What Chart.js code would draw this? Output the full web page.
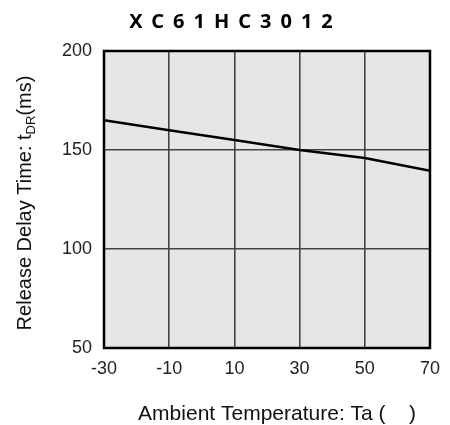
<!DOCTYPE html>
<html lang="en">
<head>
  <meta charset="UTF-8" />
  <title>XC61HC3012</title>
  <style>
    body { margin: 0; background: #fff; }
    #wrap { width: 450px; height: 425px; }
  </style>
</head>
<body>
  <div id="wrap"><canvas id="chart" width="450" height="425"></canvas></div>

  <script src="https://cdn.jsdelivr.net/npm/chart.js"></script>
  <script>
    // values
    const temps = [-30, -10, 10, 30, 50, 70];
    const delay = [165, 160, 155, 150, 146, 139.5];
    const xTicks = [-30, -10, 10, 30, 50, 70];
    const yTicks = [50, 100, 150, 200];

    const chartTitle = 'XC61HC3012';
    const xTitle = 'Ambient Temperature: Ta (    )';
    const yTitle = ['Release Delay Time: t', 'DR', '(ms)'];

    const font = 'Arial, "Liberation Sans", sans-serif';

    // plot background, frame and the titles
    const decor = {
      id: 'decor',
      beforeDraw(chart) {
        const { ctx, chartArea: a } = chart;
        ctx.save();
        ctx.fillStyle = '#e6e6e6';
        ctx.fillRect(a.left, a.top, a.right - a.left, a.bottom - a.top);
        ctx.restore();
      },
      afterDraw(chart) {
        const { ctx, chartArea: a } = chart;
        ctx.save();
        ctx.strokeStyle = '#000';
        ctx.lineWidth = 2.5;
        ctx.strokeRect(a.left, a.top, a.right - a.left, a.bottom - a.top);

        // title, spaced out letters
        ctx.fillStyle = '#000';
        ctx.font = 'bold 20px "Noto Sans", sans-serif';
        ctx.letterSpacing = '9px';
        ctx.textBaseline = 'alphabetic';
        ctx.textAlign = 'left';
        const tw = ctx.measureText(chartTitle).width - 9;
        ctx.fillText(chartTitle, 231 - tw / 2, 28);
        ctx.letterSpacing = '0px';

        // x axis title
        ctx.font = '21px ' + font;
        ctx.textAlign = 'center';
        ctx.fillStyle = '#111';
        ctx.fillText(xTitle, 277, 420);

        // y axis title with subscript
        ctx.translate(31, 203);
        ctx.rotate(-Math.PI / 2);
        ctx.textAlign = 'left';
        const big = '20px ' + font, small = '13px ' + font;
        ctx.font = big;
        const w0 = ctx.measureText(yTitle[0]).width;
        const w2 = ctx.measureText(yTitle[2]).width;
        ctx.font = small;
        const w1 = ctx.measureText(yTitle[1]).width;
        let x = -(w0 + w1 + w2) / 2;
        ctx.font = big;
        ctx.fillText(yTitle[0], x, 0);
        x += w0;
        ctx.font = small;
        ctx.fillText(yTitle[1], x, 4);
        x += w1;
        ctx.font = big;
        ctx.fillText(yTitle[2], x, 0);
        ctx.restore();
      }
    };

    new Chart(document.getElementById('chart'), {
      type: 'line',
      data: {
        datasets: [{
          data: temps.map((t, i) => ({ x: t, y: delay[i] })),
          borderColor: '#000',
          borderWidth: 2.5,
          pointRadius: 0,
          tension: 0,
          fill: false
        }]
      },
      options: {
        responsive: false,
        animation: false,
        events: [],
        layout: { padding: { top: 51, right: 17, left: 0, bottom: 0 } },
        plugins: { legend: { display: false }, tooltip: { enabled: false } },
        scales: {
          x: {
            type: 'linear',
            min: -30,
            max: 70,
            afterBuildTicks(s) { s.ticks = xTicks.map(v => ({ value: v })); },
            afterFit(s) { s.height = 77; },
            grid: { color: '#444', lineWidth: 1.6, drawTicks: false },
            border: { display: false },
            ticks: { padding: 10, color: '#222', font: { family: font, size: 18 } }
          },
          y: {
            min: 50,
            max: 200,
            afterBuildTicks(s) { s.ticks = yTicks.map(v => ({ value: v })); },
            afterFit(s) { s.width = 104; },
            grid: { color: '#444', lineWidth: 1.6, drawTicks: false },
            border: { display: false },
            ticks: { padding: 12, color: '#222', font: { family: font, size: 18 } }
          }
        }
      },
      plugins: [decor]
    });
  </script>
</body>
</html>
